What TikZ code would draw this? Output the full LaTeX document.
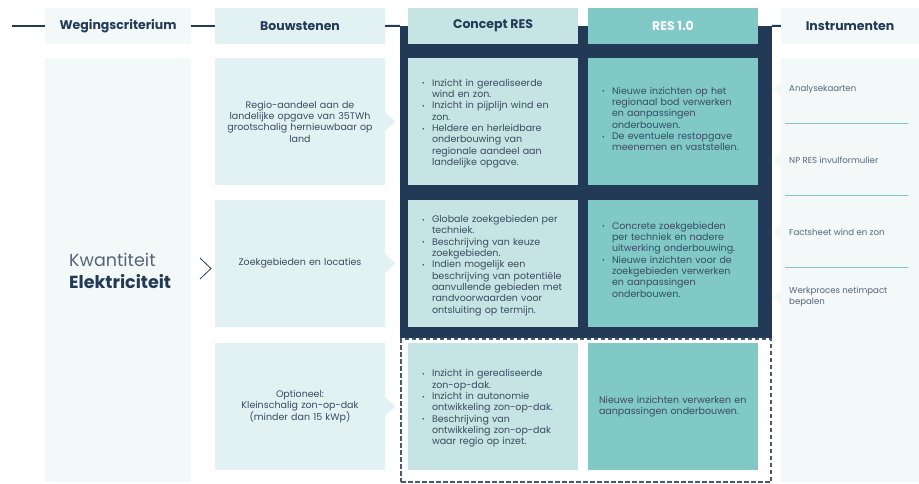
\documentclass[tikz,border=0pt]{standalone}
\usepackage{fontspec}
\setmainfont{Poppins}
\usepackage{tikz}
\usetikzlibrary{positioning}

\definecolor{navy}{HTML}{233A57}
\definecolor{palebg}{HTML}{F3F9F9}
\definecolor{bouwbg}{HTML}{E2F2F2}
\definecolor{conceptbg}{HTML}{C5E4E3}
\definecolor{resbg}{HTML}{80C9C7}
\definecolor{tekst}{HTML}{3A4B60}
\definecolor{grijs}{HTML}{56657A}
\definecolor{streep}{HTML}{475A74}

% one bullet line with hanging text
\newcommand{\bul}[1]{\par\hangindent=14pt\hangafter=1\noindent
    \makebox[14pt][l]{\hspace{4pt}\raisebox{0.5pt}{\scalebox{0.7}{\textbullet}}}#1\par}

\begin{document}
\begin{tikzpicture}[x=1pt,y=-1pt,
    hdr/.style={fill=#1, minimum height=36pt, inner sep=0pt, text=navy,
        font=\fontsize{12.5}{14}\selectfont\bfseries},
    blok/.style={fill=bouwbg, minimum width=170pt, minimum height=127pt, inner sep=0pt,
        text width=164pt, align=center, text=tekst, font=\fontsize{9.5}{11.3}\selectfont},
    cel/.style={fill=#1, minimum width=170pt, minimum height=127pt, inner xsep=10pt,
        inner ysep=0pt, text width=150pt, align=left, text=tekst,
        font=\fontsize{9.5}{11.3}\selectfont},
    instr/.style={anchor=west, align=left, text=grijs, inner sep=0pt,
        font=\fontsize{8.6}{11}\selectfont},
    scheid/.style={draw=resbg, line width=1pt},
    lijn/.style={draw=navy, line width=2pt}
]
\useasboundingbox (0,0) rectangle (919,483);

% columns in the background
\node[fill=palebg, minimum width=146pt, minimum height=424pt, inner sep=0pt] (weg) at (118,270) {};
\node[fill=palebg, minimum width=138pt, minimum height=424pt, inner sep=0pt] (instrkol) at (850,270) {};
\node[fill=navy, minimum width=372pt, minimum height=312pt, inner sep=0pt] (kader) at (586,182) {};
\node[draw=streep, line width=1.3pt, dash pattern=on 4.5pt off 2.5pt, minimum width=370pt,
    minimum height=143pt, inner sep=0pt] (optkader) at (586,410.5) {};

% header row
\node[hdr=palebg, minimum width=146pt] (hWeg) at (118,26) {Wegingscriterium};
\node[hdr=bouwbg, minimum width=170pt] (hBouw) at (300,26) {Bouwstenen};
\node[hdr=conceptbg, minimum width=170pt] (hConcept) at (493,26) {Concept RES};
\node[hdr=resbg, minimum width=170pt, text=white] (hRes) at (673,26) {RES 1.0};
\node[hdr=palebg, minimum width=138pt] (hInstr) at (850,26) {Instrumenten};

\coordinate (start) at (12,26);
\draw[lijn] (start) -- (hWeg.west);
\draw[lijn] (hWeg.east) -- (hBouw.west);
\draw[lijn] (hBouw.east) -- (kader.north west);
\draw[lijn] (kader.north east) -- (hInstr.west);

% wegingscriterium
\node[anchor=west, align=left, text=navy, inner sep=0pt, font=\fontsize{17.5}{22}\selectfont]
    (kwant) at (69,271) {{\color{grijs}Kwantiteit}\\\textbf{Elektriciteit}};
\draw[navy, line width=0.8pt] (200,258) -- (211,268.5) -- (200,279);

% bouwstenen
\node[blok] (b1) at (300,121.5) {Regio-aandeel aan de\\landelijke opgave van 35TWh\\grootschalig hernieuwbaar op\\land};
\node[blok] (b2) at (300,263.5) {Zoekgebieden en locaties};
\node[blok] (b3) at (300,406.5) {Optioneel:\\Kleinschalig zon-op-dak\\(minder dan 15 kWp)};
\foreach \b in {b1,b2,b3}
    \fill[bouwbg] (\b.east) ++(0,-9.5) -- ++(10,9.5) -- ++(-10,9.5) -- cycle;

% concept RES
\node[cel=conceptbg] (c1) at (493,121.5) {%
    \bul{Inzicht in gerealiseerde\newline wind en zon.}
    \bul{Inzicht in pijplijn wind en\newline zon.}
    \bul{Heldere en herleidbare\newline onderbouwing van\newline regionale aandeel aan\newline landelijke opgave.}};
\node[cel=conceptbg] (c2) at (493,263.5) {%
    \bul{Globale zoekgebieden per\newline techniek.}
    \bul{Beschrijving van keuze\newline zoekgebieden.}
    \bul{Indien mogelijk een\newline beschrijving van potentiële\newline aanvullende gebieden met\newline randvoorwaarden voor\newline ontsluiting op termijn.}};
\node[cel=conceptbg] (c3) at (493,406.5) {%
    \bul{Inzicht in gerealiseerde\newline zon-op-dak.}
    \bul{Inzicht in autonomie\newline ontwikkeling zon-op-dak.}
    \bul{Beschrijving van\newline ontwikkeling zon-op-dak\newline waar regio op inzet.}};

% RES 1.0
\node[cel=resbg] (r1) at (673,121.5) {%
    \bul{Nieuwe inzichten op het\newline regionaal bod verwerken\newline en aanpassingen\newline onderbouwen.}
    \bul{De eventuele restopgave\newline meenemen en vaststellen.}\vspace*{9pt}};
\node[cel=resbg] (r2) at (673,263.5) {%
    \bul{Concrete zoekgebieden\newline per techniek en nadere\newline uitwerking onderbouwing.}
    \bul{Nieuwe inzichten voor de\newline zoekgebieden verwerken\newline en aanpassingen\newline onderbouwen.}\vspace*{12pt}};
\node[cel=resbg, inner xsep=11pt, text width=148pt] (r3) at (673,406.5)
    {Nieuwe inzichten verwerken en\\aanpassingen onderbouwen.};

% instrumenten
\node[instr] (i1) at (789,89) {Analysekaarten};
\node[instr] (i2) at (789,160) {NP RES invulformulier};
\node[instr] (i3) at (789,232) {Factsheet wind en zon};
\node[instr] (i4) at (789,296.5) {Werkproces netimpact\\bepalen};
\foreach \y in {89,160,232,297}
    \fill[palebg] (781,\y-8) -- (773,\y) -- (781,\y+8) -- cycle;
\foreach \y in {123,195,267}
    \draw[scheid] (785,\y) -- (908,\y);
\end{tikzpicture}
\end{document}
